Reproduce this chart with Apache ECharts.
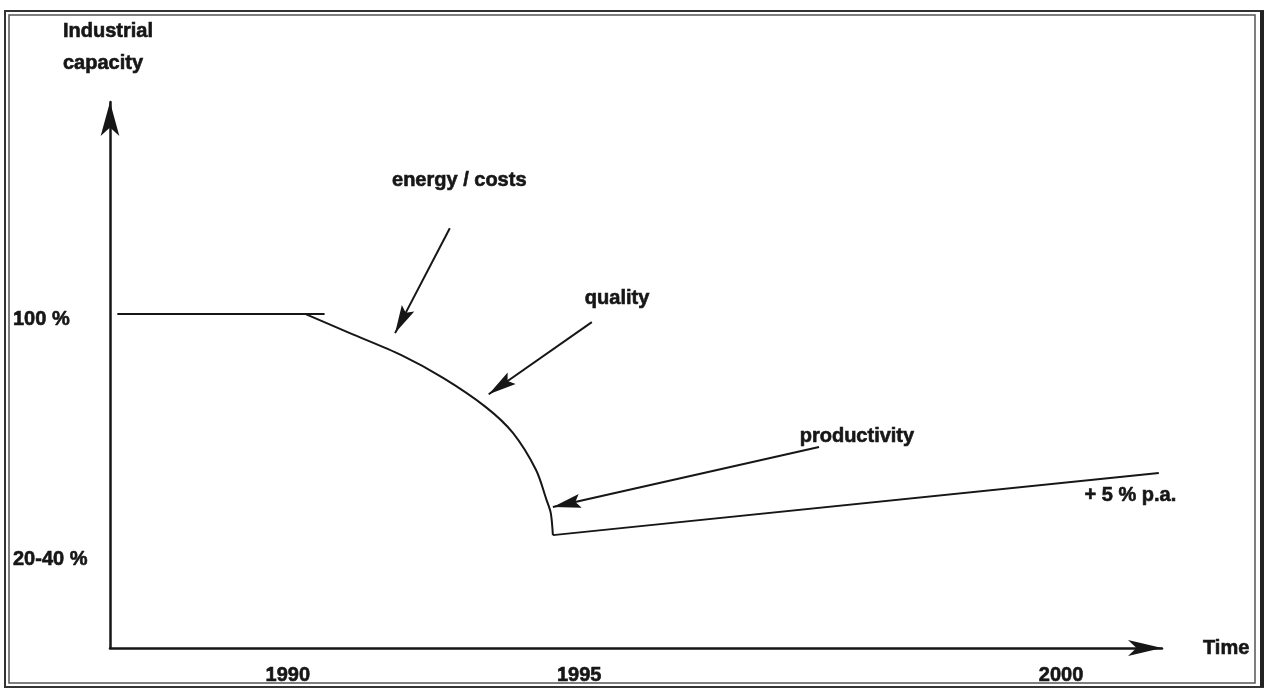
<!DOCTYPE html>
<html>
<head>
<meta charset="utf-8">
<title>Industrial capacity</title>
<script src="https://cdn.jsdelivr.net/npm/echarts@6/dist/echarts.min.js"></script>
<style>
  html, body { margin: 0; padding: 0; background: #fff; }
  #myChart { width: 1271px; height: 690px; }
</style>
</head>
<body>
<div id="myChart"></div>
<script>
// schematic units: x runs 0..100 along the time arrow, y is % of capacity
const flatLine = [[0.7, 100], [20.4, 100]]
const declineCurve = [[18.6, 100], [22.8, 94.3], [27.7, 87.7], [31.7, 80.8], [35.7, 72.2],
  [38.3, 64.4], [40.5, 53.3], [41.5, 44.3], [41.9, 40.4], [42.1, 33.8]]
const recoveryLine = [[42.1, 33.8], [99.7, 52.4]]
const pointers = [
  [[32.3, 125.7], [27.1, 94.3]],
  [[45.8, 97.6], [36.0, 76.0]],
  [[67.4, 60.2], [42.1, 42.2]]
]
const noteTexts = ['energy / costs', 'quality', 'productivity', '+ 5 % p.a.']
const notePos = [[33.2, 140.1], [48.2, 104.8], [71.0, 63.2], [97.0, 45.8]]
const yearTicks = [16.9, 44.6, 90.4]
const yearLabels = ['1990', '1995', '2000']
const levelTicks = [100, 28]
const levelLabels = ['100 %', '20-40 %']

const ink = '#161616'
const font = 'Liberation Sans, Arial, sans-serif'
// bold scanned lettering: thicken the glyphs a little
const heavy = { color: ink, fontSize: 20, fontWeight: 'bold', textBorderColor: ink, textBorderWidth: 0.6 }
// slim filled arrow head, tip sits at the centre of its square box
const head = 'path://M-22,-28 M34,28 M6,0 L13,28 L6,23 L-1,28 Z'

const myChart = echarts.init(document.getElementById('myChart'))
myChart.setOption({
  animation: false,
  backgroundColor: '#fff',
  textStyle: { fontFamily: font },
  grid: { left: 110, right: 109, top: 102, bottom: 42 },
  graphic: [
    { type: 'rect', shape: { x: 5, y: 11, width: 1258, height: 676 }, style: { fill: 'none', stroke: '#333', lineWidth: 2 } },
    { type: 'rect', shape: { x: 9, y: 15, width: 1246, height: 668 }, style: { fill: 'none', stroke: '#555', lineWidth: 1.5 } },
    { type: 'line', shape: { x1: 1262, y1: 11, x2: 1262, y2: 687 }, style: { stroke: '#222', lineWidth: 4 } }
  ],
  xAxis: {
    type: 'value',
    min: 0,
    max: 100,
    name: 'Time',
    nameLocation: 'end',
    nameGap: 41,
    nameTextStyle: Object.assign({ padding: [0, 0, 14, 0] }, heavy),
    axisLine: { lineStyle: { color: ink, width: 2.5 }, symbol: ['none', 'arrow'], symbolSize: [12, 34] },
    axisTick: { show: false },
    splitLine: { show: false },
    axisLabel: Object.assign({
      customValues: yearTicks,
      formatter: v => yearLabels[yearTicks.indexOf(v)],
      margin: 17
    }, heavy)
  },
  yAxis: {
    type: 'value',
    min: 0,
    max: 163.5,
    name: '{a|Industrial}\n{a|capacity}',
    nameLocation: 'end',
    nameGap: 23,
    nameTextStyle: {
      rich: { a: Object.assign({ width: 94, align: 'left', lineHeight: 32, fontFamily: font }, heavy) }
    },
    axisLine: { lineStyle: { color: ink, width: 2.5 }, symbol: ['none', 'arrow'], symbolSize: [14, 34] },
    axisTick: { show: false },
    splitLine: { show: false },
    axisLabel: {
      customValues: levelTicks,
      formatter: v => '{p|' + levelLabels[levelTicks.indexOf(v)] + '}',
      align: 'left',
      margin: 97,
      rich: { p: Object.assign({ padding: [10, 0, 0, 0], fontFamily: font }, heavy) }
    }
  },
  series: [
    {
      type: 'line',
      data: flatLine,
      showSymbol: false,
      lineStyle: { color: ink, width: 2 }
    },
    {
      type: 'line',
      data: declineCurve,
      smooth: 0.3,
      showSymbol: false,
      lineStyle: { color: ink, width: 2 }
    },
    {
      type: 'line',
      data: recoveryLine,
      showSymbol: false,
      lineStyle: { color: ink, width: 2 }
    },
    {
      type: 'lines',
      coordinateSystem: 'cartesian2d',
      symbol: ['none', head],
      symbolSize: [0, 56],
      lineStyle: { color: ink, width: 2, opacity: 1 },
      data: pointers.map(p => ({ coords: p }))
    },
    {
      type: 'scatter',
      symbolSize: 0,
      itemStyle: { opacity: 1 },
      data: noteTexts.map((t, i) => ({ name: t, value: notePos[i] })),
      label: Object.assign({
        show: true,
        position: 'inside',
        formatter: '{b}',
        opacity: 1
      }, heavy)
    }
  ]
})
</script>
</body>
</html>
